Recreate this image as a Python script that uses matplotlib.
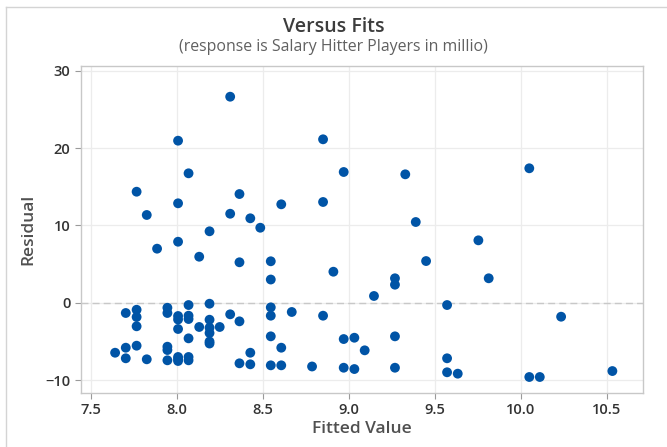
import numpy as np
import matplotlib
matplotlib.use("Agg")
import matplotlib.pyplot as plt
from matplotlib.lines import Line2D

plt.rcParams['font.family'] = ['Open Sans', 'DejaVu Sans']

title = "Versus Fits"
subtitle = "(response is Salary Hitter Players in millio)"
x_label = "Fitted Value"
y_label = "Residual"

# (fitted value, residual) pairs, grouped by fitted value
fitted = [
    7.640,
    7.702, 7.702, 7.702,
    7.765, 7.765, 7.765, 7.765, 7.765,
    7.824, 7.824,
    7.884,
    7.944, 7.944, 7.944, 7.944, 7.944,
    8.006, 8.006, 8.006, 8.006, 8.006, 8.006, 8.006, 8.006, 8.006,
    8.067, 8.067, 8.067, 8.067, 8.067, 8.067, 8.067,
    8.129, 8.129,
    8.189, 8.189, 8.189, 8.189, 8.189, 8.189, 8.189,
    8.248,
    8.309, 8.309, 8.309,
    8.363, 8.363, 8.363, 8.363,
    8.426, 8.426, 8.426,
    8.484,
    8.545, 8.545, 8.545, 8.545, 8.545, 8.545,
    8.606, 8.606, 8.606,
    8.667,
    8.785,
    8.849, 8.849, 8.849,
    8.909,
    8.969, 8.969, 8.969,
    9.031, 9.031,
    9.091,
    9.145,
    9.267, 9.267, 9.267, 9.267,
    9.327,
    9.388,
    9.448,
    9.570, 9.570, 9.570,
    9.632,
    9.752,
    9.812,
    10.048, 10.048,
    10.109,
    10.233,
    10.531,
]
residual = [
    -6.47,
    -1.33, -5.82, -7.19,
    14.36, -0.91, -1.85, -3.05, -5.56,
    11.35, -7.32,
    6.99,
    -0.65, -1.33, -5.69, -6.12, -7.45,
    20.96, 12.86, 7.89, -1.72, -2.17, -3.40, -7.02, -7.28, -7.54,
    16.74, -0.30, -1.68, -2.11, -4.61, -7.02, -7.45,
    5.95, -3.14,
    9.24, -0.13, -2.20, -3.23, -3.92, -5.02, -5.28,
    -3.14,
    26.65, 11.51, -1.50,
    14.06, 5.23, -2.41, -7.84,
    10.92, -6.47, -7.97,
    9.70,
    5.36, 3.00, -0.60, -1.68, -4.35, -8.10,
    12.73, -5.82, -8.10,
    -1.20,
    -8.25,
    21.14, 13.03, -1.68,
    4.01,
    16.91, -4.70, -8.41,
    -4.53, -8.58,
    -6.16,
    0.87,
    3.16, 2.33, -4.35, -8.41,
    16.61,
    10.44,
    5.39,
    -0.30, -7.19, -9.00,
    -9.18,
    8.07,
    3.16,
    17.39, -9.61,
    -9.61,
    -1.81,
    -8.84,
]

x_ticks = [7.5, 8.0, 8.5, 9.0, 9.5, 10.0, 10.5]
y_ticks = [-10, 0, 10, 20, 30]

fig = plt.figure(figsize=(6.67, 4.47), dpi=100)
ax = fig.add_axes([0.121, 0.1215, 0.843, 0.7315])

# thin frame around the graph region (only top/left visible in the crop)
fig.add_artist(Line2D([6 / 667, 6 / 667], [0, 1 - 7 / 447], color='#d4d4d4', lw=1))
fig.add_artist(Line2D([6 / 667, 1], [1 - 7 / 447, 1 - 7 / 447], color='#d4d4d4', lw=1))

ax.set_axisbelow(True)
ax.grid(True, color='#ececec', lw=0.9)
ax.axhline(0, color='#c8c8c8', lw=1, ls=(0, (5, 3)), zorder=1)

ax.scatter(fitted, residual, s=50, color='#0054a6', edgecolors='none',
           zorder=3)

ax.set_xlim(7.44, 10.709)
ax.set_ylim(-11.64, 30.66)
ax.set_xticks(x_ticks)
ax.set_xticklabels([f"{v:.1f}" for v in x_ticks])
ax.set_yticks(y_ticks)

for sp in ax.spines.values():
    sp.set_color('#c8c8c8')
    sp.set_linewidth(1)
ax.tick_params(colors='#9a9a9a', length=4, width=0.8, labelsize=10.5,
               labelcolor='#333333')
for lab in ax.get_xticklabels() + ax.get_yticklabels():
    lab.set_fontweight('semibold')

ax.set_xlabel(x_label, fontsize=12.5, color='#505050', fontweight='semibold',
              labelpad=3)
ax.set_ylabel(y_label, fontsize=12.5, color='#505050', fontweight='semibold',
              labelpad=6)

fig.text(0.5, 1 - 27 / 447, title, ha='center', va='center', fontsize=14,
         color='#3c3c3c', fontweight='semibold')
fig.text(0.5, 1 - 47 / 447, subtitle, ha='center', va='center', fontsize=11.4,
         color='#606060')

fig.savefig("out.png", dpi=100)
